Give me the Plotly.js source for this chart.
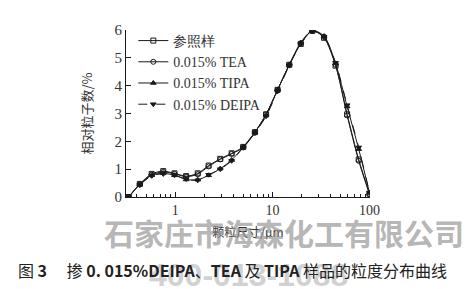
<!DOCTYPE html>
<html>
<head>
<meta charset="utf-8">
<script src="https://cdn.plot.ly/plotly-3.0.1.min.js"></script>
<style>html,body{margin:0;padding:0;background:#fff;}#chart{width:465px;height:289px;}</style>
</head>
<body>
<div id="chart"></div>
<script>
const sizes = [0.33,0.43,0.57,0.75,0.98,1.29,1.7,2.2,2.9,3.8,5.0,6.6,8.6,11.3,14.9,19.6,25.8,34,44.7,58.8,77.4,100];
const refVals   = [0,0.47,0.83,0.93,0.85,0.75,0.85,1.13,1.37,1.57,1.8,2.33,2.97,3.85,4.75,5.5,5.97,5.72,4.72,2.97,1.35,0.12];
const teaVals   = [0,0.45,0.8,0.9,0.83,0.73,0.82,1.1,1.35,1.55,1.78,2.32,2.97,3.85,4.75,5.52,5.97,5.75,4.75,2.93,1.3,0.1];
const tipaVals  = [0,0.45,0.78,0.85,0.78,0.63,0.62,0.78,1.02,1.33,1.8,2.33,2.95,3.85,4.75,5.55,5.98,5.78,4.8,3.25,1.72,0.15];
const deipaVals = [0,0.43,0.76,0.83,0.78,0.65,0.6,0.8,1.0,1.3,1.78,2.3,2.9,3.8,4.72,5.5,5.95,5.75,4.82,3.3,1.78,0.15];
const seriesNames = ['参照样','0.015% TEA','0.015% TIPA','0.015% DEIPA'];
const majorTicks = [1,10,100];
const minorTicks = [0.4,0.5,0.6,0.7,0.8,0.9,2,3,4,5,6,7,8,9,20,30,40,50,60,70,80,90];
const yTicks = [0,1,2,3,4,5,6];

const ink = '#1a1a1a';
function tr(name, ys, symbol, dash){
  return {x:sizes, y:ys, name:name, type:'scatter', mode:'lines+markers',
    line:{color:ink, width:1, shape:'spline', smoothing:0.8, dash:dash||'solid'},
    marker:{symbol:symbol, size:5, color:ink, line:{color:ink, width:1}}};
}
const data = [
  tr(seriesNames[0], refVals, 'square-open'),
  tr(seriesNames[1], teaVals, 'circle-open'),
  tr(seriesNames[2], tipaVals, 'triangle-up'),
  tr(seriesNames[3], deipaVals, 'triangle-down', 'dash')
];
const serif = 'Liberation Serif, Times New Roman, serif';
const layout = {
  width:465, height:289,
  margin:{l:126, r:95, t:30, b:92},
  paper_bgcolor:'#fff', plot_bgcolor:'#fff',
  showlegend:true,
  legend:{x:0.03, y:1.03, xanchor:'left', yanchor:'top', bgcolor:'rgba(0,0,0,0)',
    font:{family:serif, size:14, color:'#333'}, tracegroupgap:0, itemwidth:30},
  xaxis:{type:'log', range:[Math.log10(0.31), 2.005], showline:true, linecolor:ink, linewidth:1,
    ticks:'inside', ticklen:5, tickcolor:ink, tickmode:'array', tickvals:majorTicks,
    ticktext:majorTicks.map(String), showgrid:false, zeroline:false,
    tickfont:{family:serif, size:14, color:'#333'},
    minor:{tickmode:'array', tickvals:minorTicks, ticks:'inside', ticklen:3, tickcolor:ink, showgrid:false},
    title:{text:'颗粒尺寸/μm', font:{family:'Noto Sans CJK SC', size:12, color:'#333'}, standoff:11}},
  yaxis:{range:[0,6], showline:true, linecolor:ink, linewidth:1, ticks:'inside', ticklen:5, tickcolor:ink,
    tickmode:'array', tickvals:yTicks, showgrid:false, zeroline:false,
    tickfont:{family:serif, size:15, color:'#333'},
    title:{text:'相对粒子数/%', font:{family:'Noto Sans CJK SC', size:13, color:'#333'}, standoff:18}},
  annotations:[
    {xref:'paper', yref:'paper', x:0.5, y:-0.47, xanchor:'center', yanchor:'middle', showarrow:false,
     text:'<b>400-013-1088</b>', font:{family:'Liberation Sans', size:32, color:'rgba(150,150,150,0.45)'}},
    {xref:'paper', yref:'paper', x:0.435, y:-0.44, xanchor:'center', yanchor:'middle', showarrow:false,
     text:'图 <b>3</b>　 掺 <b>0. 015%DEIPA</b>、<b>TEA</b> 及 <b>TIPA</b> 样品的粒度分布曲线',
     font:{family:'Noto Sans CJK SC', size:16, color:'#222'}},
    {xref:'paper', yref:'paper', x:1.395, y:-0.21, xanchor:'right', yanchor:'middle', showarrow:false,
     text:'<b>石家庄市海森化工有限公司</b>', font:{family:'Noto Sans CJK SC', size:30, color:'rgba(140,140,140,0.65)'}}
  ]
};
Plotly.newPlot('chart', data, layout, {staticPlot:true, displayModeBar:false});
</script>
</body>
</html>
